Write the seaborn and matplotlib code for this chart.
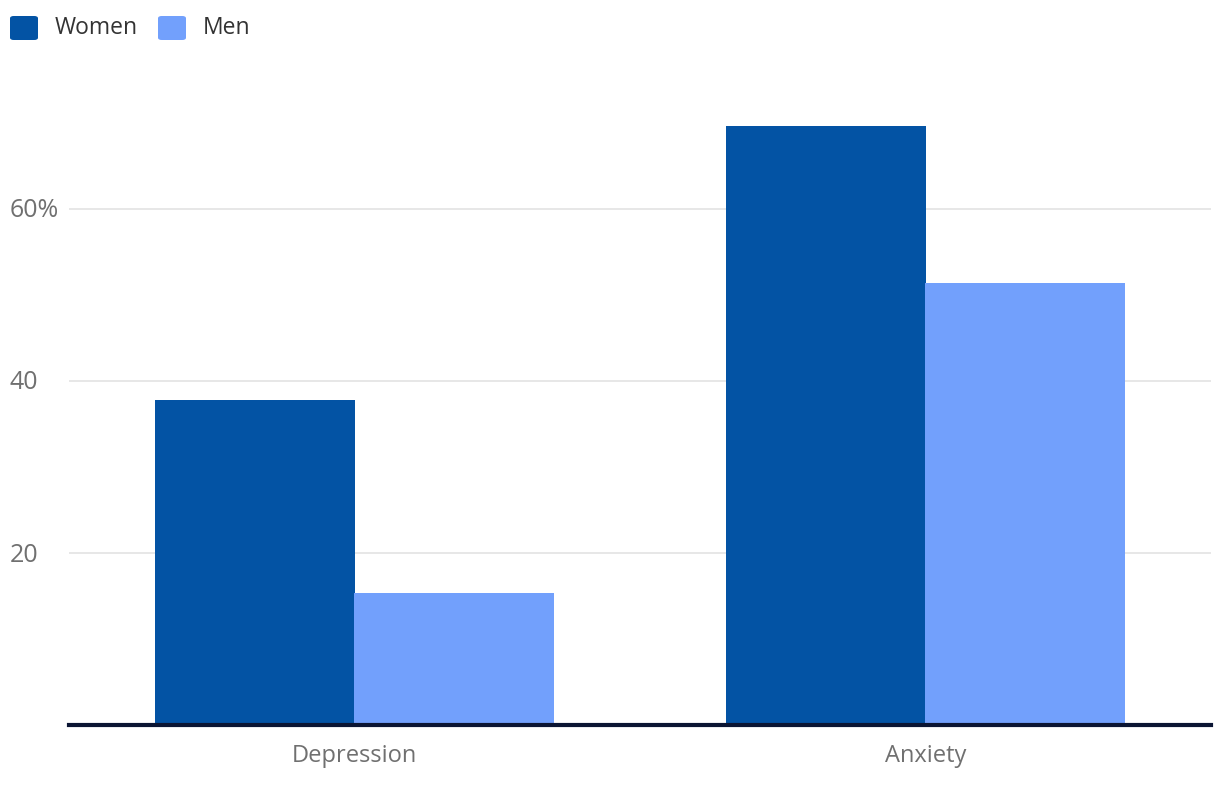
import matplotlib
matplotlib.use("Agg")
import matplotlib.pyplot as plt
import seaborn as sns
import pandas as pd
from matplotlib.patches import FancyBboxPatch

categories = ["Depression", "Anxiety"]
women = [37.8, 69.7]
men = [15.3, 51.4]
series = ["Women", "Men"]
colors = ["#0353a4", "#72a0fc"]
ytick_vals = [20, 40, 60]
ytick_labels = ["20", "40", "60%"]

df = pd.DataFrame({
    "category": categories * 2,
    "value": women + men,
    "series": [series[0]] * len(categories) + [series[1]] * len(categories),
})

sns.set_theme(style="white")
plt.rcParams["font.family"] = ["Open Sans", "DejaVu Sans"]

fig = plt.figure(figsize=(12.2, 7.88), dpi=100)
ax = fig.add_axes([69 / 1220, 63 / 788, (1211 - 69) / 1220, (725 - 80) / 788])

sns.barplot(data=df, x="category", y="value", hue="series", palette=colors,
            width=0.7, gap=0, saturation=1, ax=ax, legend=False, linewidth=0)

ax.set_xlim(-0.5, 1.5)
ax.set_ylim(0, 75)
ax.set_xlabel("")
ax.set_ylabel("")
for s in ["top", "right", "left"]:
    ax.spines[s].set_visible(False)
ax.spines["bottom"].set_color("#0b1533")
ax.spines["bottom"].set_linewidth(3)
ax.spines["bottom"].set_zorder(5)

ax.set_yticks(ytick_vals)
ax.set_yticklabels([])
ax.yaxis.grid(True, color="#e3e3e3", linewidth=1.2)
ax.set_axisbelow(True)
ax.tick_params(axis="y", length=0)
ax.tick_params(axis="x", length=0, pad=14, labelsize=17, labelcolor="#707070")

for v, lab in zip(ytick_vals, ytick_labels):
    ax.annotate(lab, xy=(0, v), xycoords=("figure fraction", "data"),
                xytext=(10, -2), textcoords="offset pixels",
                ha="left", va="center", fontsize=18, color="#707070")

# legend
for i, (name, c) in enumerate(zip(series, colors)):
    x0 = [10, 158][i]
    box = FancyBboxPatch((x0 / 1220, (788 - 40) / 788), 28 / 1220, 24 / 788,
                         boxstyle="round,pad=0,rounding_size=0.003",
                         transform=fig.transFigure, facecolor=c, edgecolor="none")
    fig.patches.append(box)
    fig.text((x0 + 45) / 1220, (788 - 28) / 788, name, ha="left", va="center",
             fontsize=16.5, color="#333333")

fig.savefig("out.png", dpi=100)
